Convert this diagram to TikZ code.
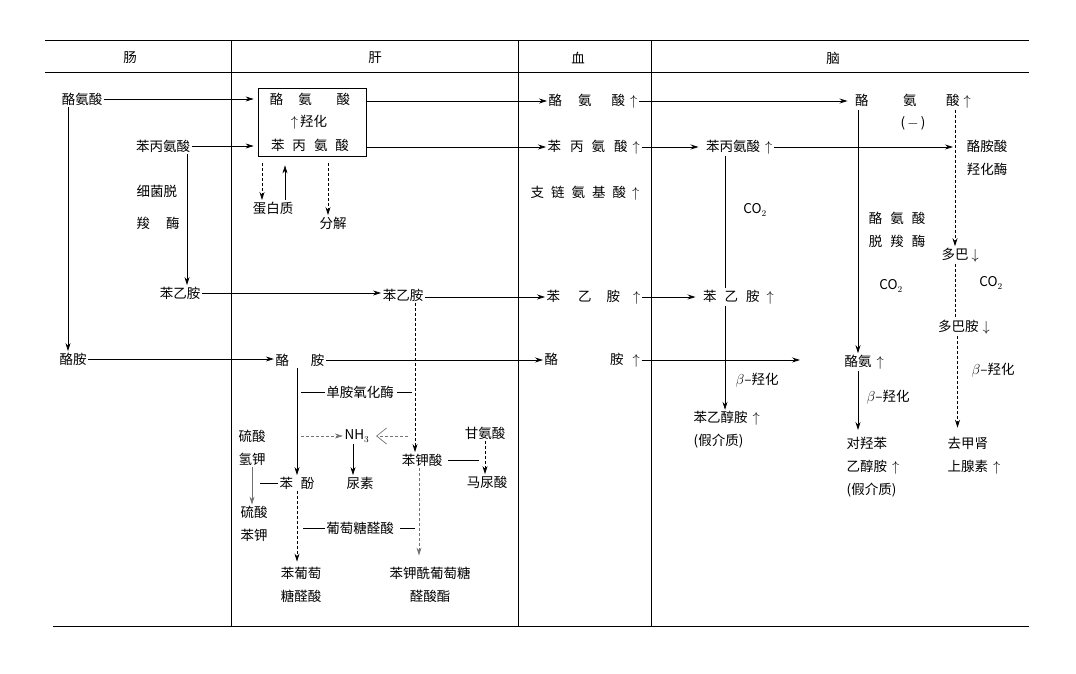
\documentclass[tikz,border=0pt]{standalone}
\usepackage{fontspec}
\setmainfont{Noto Sans CJK SC}
\usetikzlibrary{arrows.meta,positioning}
\newcommand\gp[1]{\hspace{#1pt}}
\begin{document}
\begin{tikzpicture}[>={Stealth[length=8pt,width=5pt]},x=1pt,y=-1pt,
  every node/.style={font=\fontsize{13.5}{23}\selectfont,inner sep=1.5pt},
  ln/.style={line width=0.7pt},
  dl/.style={ln,dash pattern=on 3pt off 2pt},
  gl/.style={black!55},
  tab/.style={line width=1pt}]
\useasboundingbox (0,0) rectangle (1076,674);
% table
\draw[tab] (45,41) -- (1029,41) (45,73) -- (1029,73) (53,626) -- (1029,626);
\foreach \x in {231,518,651} \draw[tab] (\x,41) -- (\x,626);
\node (h1) at (130,58) {肠};
\node (h2) at (375,58) {肝};
\node (h3) at (578,58) {血};
\node (h4) at (833,58) {脑};
% 肠
\node (tyr) at (82,99) {酪氨酸};
\node (phe) at (163,146) {苯丙氨酸};
\node[align=left,anchor=west,font=\fontsize{13.5}{32}\selectfont] (bdc) at (135,207) {细菌脱\\羧\gp{16}酶};
\node (pea) at (180,293) {苯乙胺};
\node (tyra) at (73,359) {酪胺};
\draw[ln,->] (phe.south -| 187,0) -- (pea.north -| 187,0);
\draw[ln,->] ([xshift=-14pt]tyr.south) -- ([xshift=-14pt]tyr.south |- tyra.north);
% 肝
\node[draw,ln,minimum width=108pt,minimum height=68pt] (box) at (312,122) {};
\node (ltyr) at (310,99) {酪\gp{15}氨\gp{25}酸};
\node (hyd) at (309,122) {$\uparrow$\,羟化};
\node (lphe) at (310,145) {苯\gp{8}丙\gp{8}氨\gp{8}酸};
\node (prot) at (273,208) {蛋白质};
\node (deg) at (333,223) {分解};
\draw[dl,->] ([xshift=-50pt,yshift=-7pt]box.south) -- ([xshift=-11pt]prot.north);
\draw[ln,->] ([xshift=12pt]prot.north) -- ([xshift=-27pt,yshift=-9pt]box.south);
\draw[dl,->] ([xshift=16pt,yshift=-7pt]box.south) -- ([xshift=-5pt]deg.north);
\draw[ln,->,shorten >=4pt] (tyr.east) -- (tyr.east -| box.west);
\draw[ln,->,shorten >=4pt] (phe.east) -- (phe.east -| box.west);
\node (lpea) at (403,295) {苯乙胺};
\node (ltyra) at (300,360) {酪\gp{22}胺};
\draw[ln,->] (pea.east) -- (pea.east -| lpea.west);
\draw[ln,->] (tyra.east) -- (tyra.east -| ltyra.west);
\node (phen) at (297,483) {苯\gp{8}酚};
\draw[ln,->] (phen.north |- ltyra.south) -- (phen.north);
\coordinate (pv) at ([xshift=12pt]lpea.south);
\node (benz) at (422,460) {苯钾酸};
\draw[dl,->] (pv) -- (pv |- benz.north);
\node (mao) at (360,392) {单胺氧化酶};
\draw[ln,shorten >=4pt] (mao.west) -- (mao.west -| phen.north);
\draw[ln,shorten <=2pt,shorten >=3pt] (mao.east) -- (mao.east -| pv);
\node (nh3) at (357,436) {NH$_3$};
\draw[dl,gl,->,shorten <=4pt] (nh3.west -| phen.north) -- (nh3.west);
\draw[dl,gl,-{Straight Barb[length=10pt,width=16pt]},shorten <=7pt,shorten >=5pt] (nh3.east -| pv) -- (nh3.east);
\node (urea) at (360,483) {尿素};
\draw[ln,->] ([xshift=-4pt]nh3.south) -- ([xshift=-4pt]nh3.south |- urea.north);
\node[align=center] (khs) at (252,448) {硫酸\\氢钾};
\node[align=center] (pks) at (254,524) {硫酸\\苯钾};
\draw[ln,gl,->] (khs.south) -- (khs.south |- pks.north);
\draw[ln,shorten >=8pt] (phen.west) -- (phen.west -| khs.south);
\node (gly) at (485,433) {甘氨酸};
\node (hip) at (487,482) {马尿酸};
\draw[dl,->] (gly.south) -- (gly.south |- hip.north);
\draw[ln,shorten <=4pt,shorten >=6pt] (benz.east) -- (benz.east -| gly.south);
\node[align=center] (pglu) at (301,585) {苯葡萄\\糖醛酸};
\draw[dl,->,shorten >=4pt] (phen.south) -- (phen.south |- pglu.north);
\node[align=center] (bglu) at (430,585) {苯钾酰葡萄糖\\醛酸酯};
\draw[dl,gl,->,shorten >=10pt] ([xshift=-3pt]benz.south) -- ([xshift=-3pt]benz.south |- bglu.north);
\node (glu) at (360,528) {葡萄糖醛酸};
\draw[ln,shorten >=6pt] (glu.west) -- (glu.west -| phen.south);
\draw[ln,shorten <=5pt,shorten >=7pt] (glu.east) -- (glu.east -| benz.south);
% 血
\node[anchor=west] (btyr) at (547,101) {酪\gp{16}氨\gp{20}酸\gp{5}$\uparrow$};
\node[anchor=west] (bphe) at (546,147) {苯\gp{9}丙\gp{8}氨\gp{9}酸\gp{5}$\uparrow$};
\node[anchor=west] (bbca) at (529,193) {支\gp{7}链\gp{7}氨\gp{7}基\gp{7}酸\gp{6}$\uparrow$};
\node[anchor=west] (bpea) at (545,297) {苯\gp{18}乙\gp{15}胺\gp{13}$\uparrow$};
\node[anchor=west] (btyra) at (543,360) {酪\gp{52}胺\gp{9}$\uparrow$};
\draw[ln,->] (box.east |- btyr.west) -- (btyr.west);
\draw[ln,->] (box.east |- bphe.west) -- (bphe.west);
\draw[ln,->] (lpea.east |- bpea.west) -- (bpea.west);
\draw[ln,->] (ltyra.east) -- (ltyra.east -| btyra.west);
% 脑
\node[anchor=west] (ctyr) at (853.5,101) {酪\gp{34.5}氨\gp{29.5}酸\gp{4}$\uparrow$};
\node (minus) at (913,123) {(\,$-$\,)};
\draw[ln,->,shorten >=6pt] (btyr.east) -- (btyr.east -| ctyr.west);
\node[anchor=west] (cphe) at (704.5,147) {苯丙氨酸\gp{5}$\uparrow$};
\draw[ln,->,shorten >=6pt] (bphe.east) -- (bphe.east -| cphe.west);
\node[anchor=west] (cpea) at (701.5,297) {苯\gp{8}乙\gp{8}胺\gp{7}$\uparrow$};
\draw[ln,->,shorten >=6pt] (bpea.east) -- (bpea.east -| cpea.west);
\coordinate (ev) at ([xshift=23.5pt]cpea.north west);
\draw[ln] (cphe.south -| ev) -- (cpea.north -| ev);
\node (co2m) at (755,210) {CO$_2$};
\node[align=left,anchor=west] (pean) at (692,430) {苯乙醇胺\gp{5}$\uparrow$\\(假介质)};
\draw[ln,->] (cpea.south -| ev) -- (pean.north -| ev);
\node (b1) at (757,380) {$\beta$–羟化};
\coordinate (tyraend) at (800,360);
\draw[ln,->] (btyra.east) -- (tyraend);
\node[align=center] (tdc) at (897,230) {酪\gp{8}氨\gp{8}酸\\脱\gp{8}羧\gp{8}酶};
\node (co2l) at (891,286) {CO$_2$};
\node[anchor=west] (ctyra) at (843,362) {酪氨\gp{5}$\uparrow$};
\coordinate (tv) at ([xshift=15pt]ctyra.north west);
\draw[ln,->] (ctyr.south -| tv) -- (tv);
\node[align=left,anchor=north west] (ohp) at (845,435) {对羟苯\\乙醇胺\gp{5}$\uparrow$\\(假介质)};
\draw[ln,->,shorten >=5pt] (ctyra.south -| tv) -- (ohp.north -| tv);
\node (b2) at (888,397) {$\beta$–羟化};
\node[align=center] (tyh) at (987,158) {酪胺酸\\羟化酶};
\node[anchor=west] (dopa) at (940,255) {多巴\gp{3}$\downarrow$};
\coordinate (dv) at ([xshift=15pt]dopa.north west);
\draw[dl,->] (ctyr.south -| dv) -- (dv);
\draw[ln,->,shorten >=2pt] (cphe.east) -- (cphe.east -| dv);
\node (co2r) at (991,283) {CO$_2$};
\node[anchor=west] (dpm) at (936.5,327) {多巴胺\gp{4}$\downarrow$};
\coordinate (dmv) at ([xshift=21pt]dpm.south west);
\draw[dl] (dopa.south -| dv) -- (dpm.north -| dv);
\node[align=left,anchor=west] (ne) at (946,456) {去甲肾\\上腺素\gp{5}$\uparrow$};
\draw[dl,->,shorten >=8pt] (dmv) -- (ne.north -| dmv);
\node (b3) at (993,370) {$\beta$–羟化};
\end{tikzpicture}
\end{document}
